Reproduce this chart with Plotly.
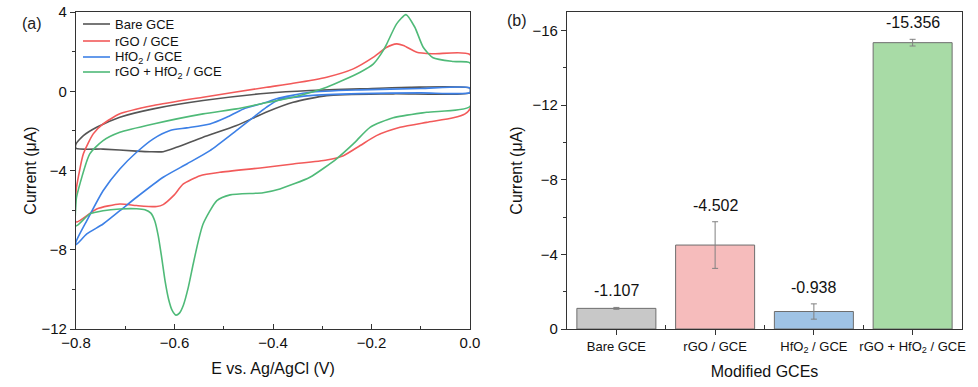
import plotly.graph_objects as go

# ---------------- data: (a) cyclic voltammograms ----------------
# each loop: cathodic branch (0 -> -0.8 V) then anodic branch (-0.8 -> 0 V)
bare_E = [0.0, -0.156, -0.291, -0.359, -0.413, -0.474, -0.542, -0.596, -0.623, -0.650, -0.677, -0.745, -0.800,
          -0.800, -0.785, -0.758, -0.711, -0.643, -0.542, -0.413, -0.325, -0.223, -0.122, 0.0, 0.0]
bare_I = [-0.08, -0.13, -0.22, -0.56, -1.05, -1.73, -2.32, -2.83, -3.05, -3.05, -3.02, -2.92, -2.88,
          -2.66, -2.24, -1.82, -1.31, -0.89, -0.47, -0.10, 0.04, 0.12, 0.20, 0.15, -0.08]

rgo_E = [0.0, -0.010, -0.034, -0.088, -0.142, -0.190, -0.223, -0.257, -0.291, -0.359, -0.426, -0.508, -0.548,
         -0.582, -0.602, -0.623, -0.636, -0.677, -0.711, -0.758, -0.800,
         -0.800, -0.799, -0.785, -0.765, -0.745, -0.711, -0.643, -0.542, -0.413, -0.359, -0.291, -0.237,
         -0.196, -0.169, -0.149, -0.135, -0.108, -0.075, 0.0, 0.0]
rgo_I = [-0.89, -1.14, -1.34, -1.57, -1.82, -2.24, -2.74, -3.25, -3.47, -3.67, -3.87, -4.09, -4.26,
         -4.68, -5.27, -5.72, -5.82, -5.77, -5.69, -5.94, -6.60,
         -5.10, -4.85, -3.16, -2.15, -1.65, -1.14, -0.72, -0.30, 0.20, 0.40, 0.71, 1.13,
         1.72, 2.22, 2.39, 2.31, 1.97, 1.89, 1.85, -0.89]

hfo2_E = [0.0, -0.100, -0.223, -0.325, -0.390, -0.413, -0.474, -0.528, -0.575, -0.623, -0.677, -0.711, -0.745,
          -0.778, -0.800,
          -0.800, -0.778, -0.745, -0.711, -0.677, -0.643, -0.609, -0.575, -0.528, -0.494, -0.460, -0.413,
          -0.393, -0.325, -0.223, -0.100, 0.0, 0.0]
hfo2_I = [-0.07, -0.08, -0.12, -0.22, -0.45, -0.80, -1.98, -3.00, -3.67, -4.34, -5.35, -6.03, -6.70,
          -7.20, -7.75,
          -7.60, -6.53, -5.02, -3.92, -3.08, -2.40, -1.98, -1.85, -1.65, -1.31, -0.89, -0.56,
          -0.38, -0.05, 0.07, 0.14, 0.17, -0.07]

mix_E = [0.0, -0.088, -0.156, -0.203, -0.237, -0.271, -0.325, -0.386, -0.420, -0.487, -0.514, -0.542, -0.552,
         -0.562, -0.572, -0.582, -0.590, -0.597, -0.605, -0.612, -0.619, -0.626, -0.633, -0.640, -0.648,
         -0.660, -0.677, -0.711, -0.745, -0.772, -0.800,
         -0.800, -0.799, -0.772, -0.745, -0.711, -0.643, -0.542, -0.474, -0.426, -0.359, -0.291, -0.223,
         -0.196, -0.176, -0.169, -0.149, -0.130, -0.112, -0.095, -0.075, -0.034, 0.0, 0.0]
mix_I = [-0.77, -1.06, -1.34, -1.82, -2.66, -3.41, -4.34, -4.93, -5.12, -5.23, -5.52, -6.70, -7.60,
         -8.72, -9.90, -10.80, -11.20, -11.30, -11.05, -10.50, -9.60, -8.40, -7.30, -6.55, -6.15,
         -5.98, -5.93, -5.94, -6.03, -6.19, -6.80,
         -5.60, -5.35, -3.16, -2.49, -2.07, -1.65, -1.14, -0.89, -0.64, -0.30, 0.20, 0.96,
         1.38, 2.06, 2.39, 3.40, 3.87, 3.23, 2.22, 1.69, 1.50, 1.43, -0.77]

cv_names = ["Bare GCE", "rGO / GCE", "HfO<sub>2</sub> / GCE", "rGO + HfO<sub>2</sub> / GCE"]
cv_colors = ["#555555", "#f25a5a", "#3d80e6", "#4fba78"]

# ---------------- data: (b) peak currents ----------------
bar_labels = ["Bare GCE", "rGO / GCE", "HfO<sub>2</sub> / GCE", "rGO + HfO<sub>2</sub> / GCE"]
bar_values = [-1.107, -4.502, -0.938, -15.356]
bar_errors = [0.05, 1.25, 0.41, 0.18]
bar_colors = ["#c8c8c8", "#f6bcbc", "#9fc3e5", "#a8dba6"]

FONT = "Liberation Sans, Arial, sans-serif"
W, H = 978, 387

fig = go.Figure()

for E, I, name, col in zip([bare_E, rgo_E, hfo2_E, mix_E], [bare_I, rgo_I, hfo2_I, mix_I], cv_names, cv_colors):
    fig.add_trace(go.Scatter(x=E, y=I, mode="lines", name=name, showlegend=False,
                             line=dict(color=col, width=1.6, shape="spline", smoothing=0.6),
                             xaxis="x", yaxis="y"))

xpos = list(range(len(bar_values)))
fig.add_trace(go.Bar(x=xpos, y=bar_values, width=0.8, showlegend=False,
                     marker=dict(color=bar_colors, line=dict(color="#6e6e6e", width=1)),
                     error_y=dict(type="data", array=bar_errors, color="#808080", thickness=1, width=3),
                     xaxis="x2", yaxis="y2"))

annotations = []
shapes = []
for i, (v, e) in enumerate(zip(bar_values, bar_errors)):
    annotations.append(dict(x=i, y=v - e, xref="x2", yref="y2", text=f"{v:.3f}", showarrow=False,
                            yanchor="bottom", yshift=6, font=dict(size=16, color="#111")))
annotations.append(dict(x=32/W, y=1-23/H, xref="paper", yref="paper", text="(a)", showarrow=False,
                        xanchor="center", yanchor="middle", font=dict(size=16, color="#222")))
annotations.append(dict(x=517/W, y=1-20/H, xref="paper", yref="paper", text="(b)", showarrow=False,
                        xanchor="center", yanchor="middle", font=dict(size=16, color="#222")))

# legend for panel (a), drawn as key lines + labels
leg_rows = [24, 41, 57, 72]
for row, name, col in zip(leg_rows, cv_names, cv_colors):
    yp = 1 - row / H
    shapes.append(dict(type="line", xref="paper", yref="paper", x0=83/W, x1=110/W, y0=yp, y1=yp,
                       line=dict(color=col, width=1.6)))
    annotations.append(dict(x=113/W, y=yp, xref="paper", yref="paper", text=name, showarrow=False,
                            xanchor="left", yanchor="middle", font=dict(size=13, color="#111")))

axis_common = dict(showline=True, mirror=True, linecolor="#333333", linewidth=1.2, showgrid=False,
                   zeroline=False, ticks="outside", ticklen=5, tickcolor="#333333",
                   tickfont=dict(size=15, color="#111"), automargin=False)

ydom = [(H-329)/H, (H-12)/H]

fig.update_layout(
    width=W, height=H, margin=dict(l=0, r=0, t=0, b=0),
    paper_bgcolor="white", plot_bgcolor="white",
    font=dict(family=FONT, color="#111"),
    showlegend=False,
    xaxis=dict(axis_common, domain=[76/W, 470/W], range=[-0.8, 0.0], tickvals=[-0.8, -0.6, -0.4, -0.2, 0.0],
               tickformat=".1f", anchor="y", ticks="inside",
               minor=dict(tickvals=[-0.7, -0.5, -0.3, -0.1], ticks="inside", ticklen=3, tickcolor="#333333"),
               title=dict(text="E vs. Ag/AgCl (V)", font=dict(size=16), standoff=12)),
    yaxis=dict(axis_common, domain=ydom, range=[-12, 4], tickvals=[-12, -8, -4, 0, 4], anchor="x",
               minor=dict(tickvals=[-10, -6, -2, 2], ticks="outside", ticklen=3, tickcolor="#333333"),
               title=dict(text="Current (μA)", font=dict(size=16), standoff=0)),
    xaxis2=dict(axis_common, domain=[567/W, 962/W], range=[-0.5, 3.5], tickvals=xpos, ticktext=bar_labels,
                tickfont=dict(size=13, color="#111"), anchor="y2",
                minor=dict(tickvals=[0.5, 1.5, 2.5], ticks="inside", ticklen=4, tickcolor="#333333"),
                title=dict(text="Modified GCEs", font=dict(size=16), standoff=11)),
    yaxis2=dict(axis_common, domain=ydom, range=[0, -17], tickvals=[0, -4, -8, -12, -16], anchor="x2",
                minor=dict(tickvals=[-2, -6, -10, -14], ticks="outside", ticklen=3, tickcolor="#333333"),
                title=dict(text="Current (μA)", font=dict(size=16), standoff=5)),
    annotations=annotations,
    shapes=shapes,
)

fig.write_html("out.html", config={"displayModeBar": False},
               post_script="document.body.style.margin='0px';document.body.style.overflow='hidden';")
